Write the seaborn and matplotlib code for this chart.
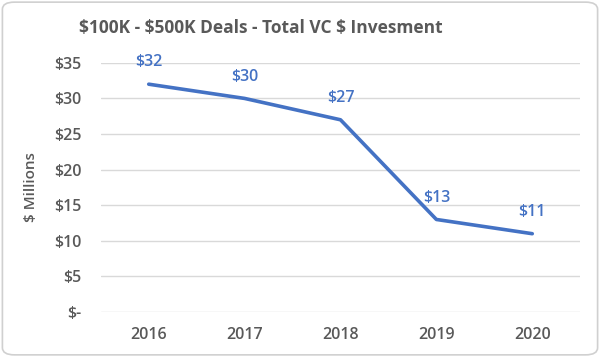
import matplotlib
matplotlib.use("Agg")
import matplotlib.pyplot as plt
from matplotlib.patches import FancyBboxPatch
import seaborn as sns
import pandas as pd

# data
years = ["2016", "2017", "2018", "2019", "2020"]
investment = [32, 30, 27, 13, 11]          # $ millions
y_ticks = [0, 5, 10, 15, 20, 25, 30, 35]
y_tick_labels = ["$-", "$5", "$10", "$15", "$20", "$25", "$30", "$35"]
title = "$100K - $500K Deals - Total VC $ Invesment"

sns.set_theme(style="white")
plt.rcParams["font.family"] = ["Open Sans", "DejaVu Sans"]

blue = "#4472C4"
grey_txt = "#595959"

df = pd.DataFrame({"Year": years, "Investment": investment})

fig = plt.figure(figsize=(6.0, 3.57), dpi=100)
ax = fig.add_axes([0.168, 0.126, 0.799, 0.698])

sns.lineplot(data=df, x="Year", y="Investment", color=blue, linewidth=2.6, ax=ax)

for i, v in enumerate(investment):
    ax.annotate(f"${v}", (i, v), xytext=(0, 10), textcoords="offset points",
                ha="center", va="bottom", color=blue, fontsize=11.5,
                fontweight="semibold")

ax.set_xlim(-0.5, len(years) - 0.5)
ax.set_ylim(0, 35)
ax.set_yticks(y_ticks)
ax.set_yticklabels(y_tick_labels)
ax.yaxis.grid(True, color="#d9d9d9", linewidth=1)
ax.xaxis.grid(False)
for s in ax.spines.values():
    s.set_visible(False)
ax.tick_params(axis="both", length=0, colors=grey_txt, labelsize=11.5)
ax.tick_params(axis="y", pad=14)
ax.tick_params(axis="x", pad=11)
for lab in ax.get_xticklabels() + ax.get_yticklabels():
    lab.set_fontweight("semibold")
ax.set_xlabel("")
ax.set_ylabel("$ Millions", color=grey_txt, fontsize=11, fontweight="semibold")
ax.yaxis.set_label_coords(-0.13, 0.5)

fig.text(0.435, 0.922, title, ha="center", va="center", fontsize=12.5,
         fontweight="bold", color=grey_txt)

border = FancyBboxPatch((0.004, 0.006), 0.992, 0.988,
                        boxstyle="round,pad=0,rounding_size=0.02",
                        transform=fig.transFigure, facecolor="none",
                        edgecolor="#d0d0d0", linewidth=1.2)
fig.patches.append(border)

fig.savefig("out.png", dpi=100)
